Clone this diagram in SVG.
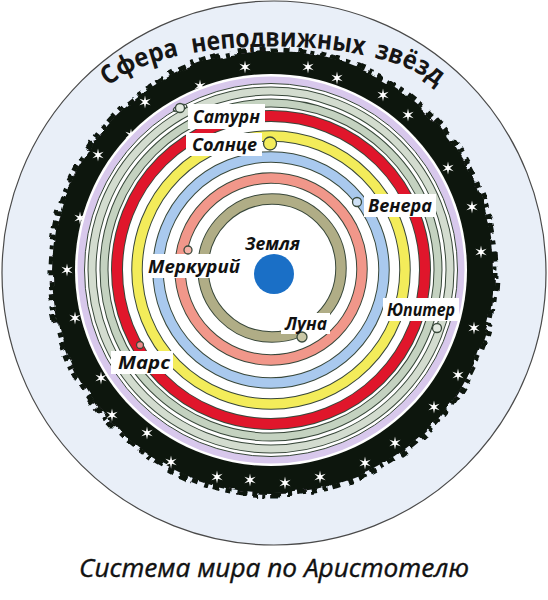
<svg xmlns="http://www.w3.org/2000/svg" xmlns:xlink="http://www.w3.org/1999/xlink" width="548" height="600" viewBox="0 0 548 600">
<defs>
<style>
.edge{fill:none;stroke:#38473a}
.band{fill:none}
.lbl{font-family:"Open Sans","Liberation Sans",sans-serif;font-weight:bold;font-style:italic;font-size:17px;fill:#111}
.box{fill:#fff}
.pl{stroke:#3a4a3c;stroke-width:1.3}
.top{font-family:"Open Sans","Liberation Sans",Arial,sans-serif;font-weight:bold;font-size:26px;fill:#151515}
</style>
<filter id="rough" x="-10%" y="-10%" width="120%" height="120%">
<feTurbulence type="fractalNoise" baseFrequency="0.055" numOctaves="1" seed="11" result="n"/>
<feDisplacementMap in="SourceGraphic" in2="n" scale="10" xChannelSelector="R" yChannelSelector="G"/>
</filter>
<path id="star" d="M0,-6.5 L1,-1.8 L5.6,-3.2 L2,0 L5.6,3.2 L1,1.8 L0,6.5 L-1,1.8 L-5.6,3.2 L-2,0 L-5.6,-3.2 L-1,-1.8 Z" fill="#fff"/>
<path id="arc" d="M108,87 C165,33 381,33 438,87"/>
</defs>
<rect width="548" height="600" fill="#fff"/>
<g id="sky">
<circle cx="274" cy="273" r="272" fill="#e9eff8" stroke="#4a4a4a" stroke-width="1.2"/>
</g>
<g id="star-sphere">
<g filter="url(#rough)">
<circle cx="273" cy="272" r="221" fill="#0c1411"/>
<circle cx="273" cy="272" r="223" fill="none" stroke="#0c1411" stroke-width="5" stroke-dasharray="6 5 9 6 5 7 8 5 4 6"/>
</g>
<circle cx="271" cy="270" r="196" fill="#fff"/>
<g id="stars">
<use xlink:href="#star" x="98" y="155"/>
<use xlink:href="#star" x="80" y="218"/>
<use xlink:href="#star" x="67" y="270"/>
<use xlink:href="#star" x="131" y="135"/>
<use xlink:href="#star" x="145" y="102"/>
<use xlink:href="#star" x="200" y="86"/>
<use xlink:href="#star" x="245" y="67"/>
<use xlink:href="#star" x="308" y="67"/>
<use xlink:href="#star" x="337" y="78"/>
<use xlink:href="#star" x="383" y="95"/>
<use xlink:href="#star" x="408" y="115"/>
<use xlink:href="#star" x="448" y="168"/>
<use xlink:href="#star" x="472" y="207"/>
<use xlink:href="#star" x="481" y="252"/>
<use xlink:href="#star" x="474" y="328"/>
<use xlink:href="#star" x="458" y="375"/>
<use xlink:href="#star" x="434" y="407"/>
<use xlink:href="#star" x="395" y="443"/>
<use xlink:href="#star" x="365" y="463"/>
<use xlink:href="#star" x="320" y="477"/>
<use xlink:href="#star" x="285" y="483"/>
<use xlink:href="#star" x="250" y="480"/>
<use xlink:href="#star" x="217" y="477"/>
<use xlink:href="#star" x="171" y="462"/>
<use xlink:href="#star" x="147" y="433"/>
<use xlink:href="#star" x="112" y="415"/>
<use xlink:href="#star" x="101" y="378"/>
<use xlink:href="#star" x="75" y="318"/>
</g>
</g>
<g id="spheres">
<g id="lilac"><circle cx="271" cy="270" r="190" fill="none" stroke="#d8c8ec" stroke-width="7"/><circle cx="271" cy="270" r="186.5" class="edge" stroke-width="1"/></g>
<g id="saturn-sphere"><circle cx="271" cy="270" r="179" class="edge" stroke-width="9"/><circle cx="271" cy="270" r="179" class="band" stroke="#d3dccf" stroke-width="7"/></g>
<g id="jupiter-sphere"><circle cx="271" cy="270" r="167" class="edge" stroke-width="9"/><circle cx="271" cy="270" r="167" class="band" stroke="#c4d2c0" stroke-width="7"/></g>
<g id="mars-sphere"><circle cx="271" cy="270" r="154" class="edge" stroke-width="12"/><circle cx="271" cy="270" r="154" class="band" stroke="#e0162b" stroke-width="10"/></g>
<g id="sun-sphere"><circle cx="271" cy="270" r="134" class="edge" stroke-width="11.5"/><circle cx="271" cy="270" r="134" class="band" stroke="#f3ec5a" stroke-width="9.5"/></g>
<g id="venus-sphere"><circle cx="271" cy="270" r="113" class="edge" stroke-width="11.5"/><circle cx="271" cy="270" r="113" class="band" stroke="#a9c9ee" stroke-width="9.5"/></g>
<g id="mercury-sphere"><circle cx="271" cy="269" r="91" class="edge" stroke-width="11.5"/><circle cx="271" cy="269" r="91" class="band" stroke="#f1978a" stroke-width="9.5"/></g>
<g id="moon-sphere"><circle cx="272" cy="268" r="69" class="edge" stroke-width="11.5"/><circle cx="272" cy="268" r="69" class="band" stroke="#b0ad86" stroke-width="9.5"/></g>
</g>
<g id="title-top">
<text class="top"><textPath xlink:href="#arc" startOffset="11.5%" text-anchor="middle" textLength="78" lengthAdjust="spacingAndGlyphs">Сфера</textPath></text>
<text class="top"><textPath xlink:href="#arc" startOffset="51.5%" text-anchor="middle" textLength="172" lengthAdjust="spacingAndGlyphs">неподвижных</textPath></text>
<text class="top"><textPath xlink:href="#arc" startOffset="89.5%" text-anchor="middle" textLength="70" lengthAdjust="spacingAndGlyphs">звёзд</textPath></text>
</g>
<g id="earth">
<circle cx="274" cy="274" r="20" fill="#1a6fc6"/>
<text class="lbl" x="245" y="250" textLength="55" lengthAdjust="spacingAndGlyphs">Земля</text>
</g>
<g id="saturn">
<rect class="box" x="188" y="104" width="77" height="25"/>
<ellipse cx="180" cy="108" rx="7" ry="3" fill="none" class="pl" transform="rotate(-20 180 108)"/>
<circle cx="180" cy="108" r="4.5" fill="#e4ebe2" class="pl"/>
<text class="lbl" x="193" y="123" textLength="67" lengthAdjust="spacingAndGlyphs">Сатурн</text>
</g>
<g id="sun">
<rect class="box" x="186" y="133" width="76" height="23"/>
<circle cx="270" cy="143.5" r="6.5" fill="#f3ec5a" class="pl"/>
<text class="lbl" x="192" y="151" textLength="65" lengthAdjust="spacingAndGlyphs">Солнце</text>
</g>
<g id="venus">
<rect class="box" x="364" y="194" width="72" height="23"/>
<circle cx="357" cy="202" r="4.5" fill="#cfe1f6" class="pl"/>
<text class="lbl" x="368" y="212" textLength="64" lengthAdjust="spacingAndGlyphs">Венера</text>
</g>
<g id="jupiter">
<rect class="box" x="383" y="298" width="76" height="23"/>
<circle cx="437" cy="328" r="4.5" fill="#e2e9e0" class="pl"/>
<text class="lbl" x="387" y="316" textLength="68" lengthAdjust="spacingAndGlyphs">Юпитер</text>
</g>
<g id="mercury">
<rect class="box" x="144" y="254" width="100" height="24"/>
<circle cx="188" cy="250" r="4" fill="#f6b3a8" class="pl"/>
<text class="lbl" x="148" y="273" textLength="92" lengthAdjust="spacingAndGlyphs">Меркурий</text>
</g>
<g id="moon">
<rect class="box" x="281" y="313" width="49" height="21"/>
<circle cx="302" cy="337" r="5" fill="#c9c7a6" class="pl"/>
<text class="lbl" x="285" y="330" textLength="42" lengthAdjust="spacingAndGlyphs">Луна</text>
</g>
<g id="mars">
<rect class="box" x="111" y="351" width="62" height="23"/>
<circle cx="140" cy="345" r="3.5" fill="#f08a8a" class="pl"/>
<text class="lbl" x="118" y="369" textLength="52" lengthAdjust="spacingAndGlyphs">Марс</text>
</g>
<g id="caption">
<text x="274" y="577" text-anchor="middle" font-family="'Open Sans','Liberation Sans',sans-serif" font-style="italic" font-size="26" fill="#111" stroke="#111" stroke-width="0.4" textLength="390" lengthAdjust="spacingAndGlyphs">Система мира по Аристотелю</text>
</g>
</svg>
